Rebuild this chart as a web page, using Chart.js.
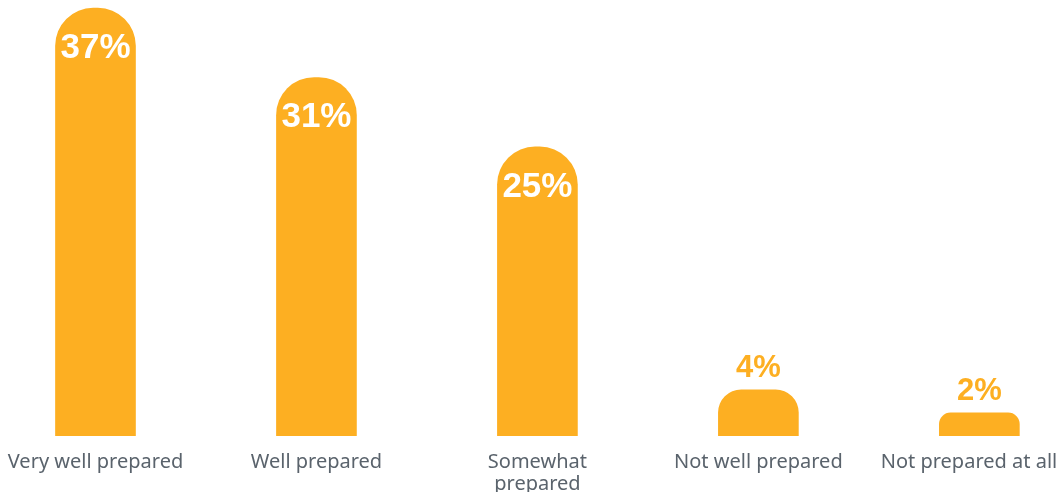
<!DOCTYPE html>
<html>
<head>
<meta charset="utf-8">
<script src="https://cdn.jsdelivr.net/npm/chart.js@4.4.1/dist/chart.umd.min.js"></script>
<style>
  html, body { margin: 0; padding: 0; background: #fff; overflow: hidden; }
  #wrap { position: absolute; left: -15px; top: 0; width: 1108px; height: 510px; }
</style>
</head>
<body>
<div id="wrap"><canvas id="chart"></canvas></div>
<script>
const categories = [
  "Very well prepared",
  "Well prepared",
  ["Somewhat", "prepared"],
  "Not well prepared",
  "Not prepared at all\u00a0\u00a0\u00a0\u00a0", // padded so it sits inside the page edge
];
const shares = [37, 31, 25, 4, 2];

const ORANGE = "#FDAF22";

// percent labels: white inside tall bars, orange above short ones
const valueLabels = {
  id: "valueLabels",
  afterDatasetsDraw(chart) {
    const ctx = chart.ctx;
    const meta = chart.getDatasetMeta(0);
    ctx.save();
    ctx.textAlign = "center";
    ctx.textBaseline = "middle";
    meta.data.forEach((bar, i) => {
      const v = shares[i];
      if (v >= 10) {
        ctx.font = "bold 35px 'Liberation Sans', Arial, sans-serif";
        ctx.fillStyle = "#ffffff";
        ctx.fillText(v + "%", bar.x, bar.y + 40);
      } else {
        ctx.font = "bold 31px 'Liberation Sans', Arial, sans-serif";
        ctx.fillStyle = ORANGE;
        ctx.fillText(v + "%", bar.x, bar.y - 21);
      }
    });
    ctx.restore();
  },
};

new Chart(document.getElementById("chart"), {
  type: "bar",
  data: {
    labels: categories,
    datasets: [
      {
        data: shares,
        backgroundColor: ORANGE,
        barThickness: 80,
        borderSkipped: "bottom",
        borderRadius: { topLeft: 38, topRight: 38, bottomLeft: 0, bottomRight: 0 },
      },
    ],
  },
  options: {
    responsive: true,
    maintainAspectRatio: false,
    animation: false,
    layout: { padding: 0 },
    plugins: { legend: { display: false }, tooltip: { enabled: false } },
    scales: {
      x: {
        grid: { display: false, drawTicks: false },
        border: { display: false },
        ticks: {
          color: "#5a636c",
          padding: 15,
          maxRotation: 0,
          autoSkip: false,
          font: { family: "'Noto Sans', sans-serif", size: 20, lineHeight: 1.1 },
        },
      },
      y: {
        display: false,
        min: 0,
        max: 37.7,
      },
    },
  },
  plugins: [valueLabels],
});
</script>
</body>
</html>
